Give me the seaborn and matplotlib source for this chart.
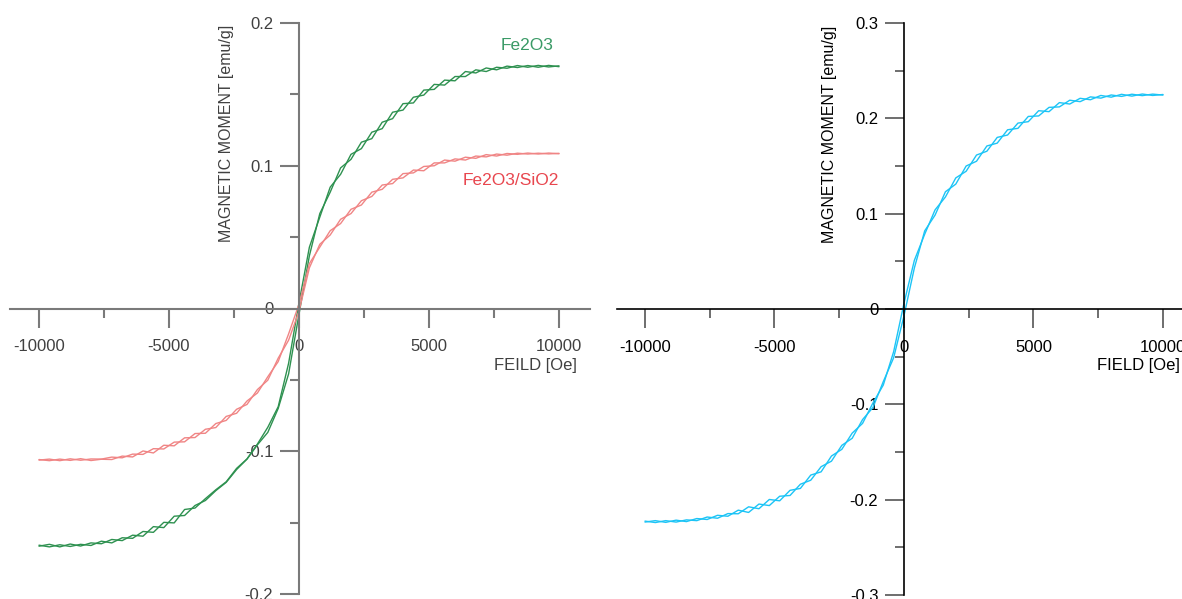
import numpy as np
import pandas as pd
import matplotlib
matplotlib.use('Agg')
import matplotlib.pyplot as plt
import seaborn as sns

# field sweep (Oe), shared by all loops
field = [-10000, -9600, -9200, -8800, -8400, -8000, -7600, -7200, -6800, -6400,
         -6000, -5600, -5200, -4800, -4400, -4000, -3600, -3200, -2800, -2400,
         -2000, -1600, -1200, -800, -400, 0, 400, 800, 1200, 1600,
         2000, 2400, 2800, 3200, 3600, 4000, 4400, 4800, 5200, 5600,
         6000, 6400, 6800, 7200, 7600, 8000, 8400, 8800, 9200, 9600, 10000]

# Fe2O3, two sweep branches (emu/g)
fe2o3_a = [-0.1665, -0.1652, -0.1670, -0.1650, -0.1664, -0.1642, -0.1648, -0.1618, -0.1626, -0.1588,
           -0.1595, -0.1528, -0.1535, -0.1455, -0.1450, -0.1380, -0.1345, -0.1276, -0.1218, -0.1128,
           -0.1055, -0.0955, -0.0868, -0.0700, -0.0458, -0.0040, 0.0370, 0.0665, 0.0815, 0.0985,
           0.1045, 0.1165, 0.1190, 0.1305, 0.1330, 0.1435, 0.1440, 0.1530, 0.1535, 0.1600,
           0.1595, 0.1660, 0.1650, 0.1685, 0.1672, 0.1698, 0.1688, 0.1702, 0.1690, 0.1703, 0.1694]
fe2o3_b = [-0.1658, -0.1670, -0.1655, -0.1667, -0.1652, -0.1660, -0.1630, -0.1642, -0.1606, -0.1610,
           -0.1562, -0.1568, -0.1498, -0.1502, -0.1408, -0.1398, -0.1332, -0.1270, -0.1214, -0.1120,
           -0.1054, -0.0950, -0.0832, -0.0688, -0.0384, 0.0040, 0.0430, 0.0640, 0.0850, 0.0940,
           0.1080, 0.1120, 0.1235, 0.1260, 0.1375, 0.1390, 0.1480, 0.1495, 0.1570, 0.1565,
           0.1625, 0.1625, 0.1672, 0.1660, 0.1690, 0.1683, 0.1702, 0.1690, 0.1703, 0.1692, 0.1700]

# Fe2O3/SiO2, two sweep branches
fe2o3_sio2_a = [-0.1062, -0.1055, -0.1066, -0.1053, -0.1063, -0.1054, -0.1055, -0.1041, -0.1046, -0.1020,
                -0.1022, -0.0982, -0.0984, -0.0936, -0.0934, -0.0876, -0.0874, -0.0806, -0.0784, -0.0706,
                -0.0672, -0.0568, -0.0502, -0.0348, -0.0222, -0.0020, 0.0285, 0.0450, 0.0515, 0.0625,
                0.0665, 0.0755, 0.0785, 0.0865, 0.0875, 0.0945, 0.0950, 0.0995, 0.1000, 0.1040,
                0.1032, 0.1060, 0.1052, 0.1078, 0.1068, 0.1086, 0.1080, 0.1089, 0.1082, 0.1089, 0.1084]
fe2o3_sio2_b = [-0.1058, -0.1066, -0.1055, -0.1064, -0.1052, -0.1065, -0.1056, -0.1058, -0.1034, -0.1040,
                -0.0998, -0.1012, -0.0958, -0.0962, -0.0906, -0.0904, -0.0846, -0.0834, -0.0756, -0.0734,
                -0.0648, -0.0592, -0.0478, -0.0372, -0.0178, 0.0030, 0.0315, 0.0430, 0.0545, 0.0595,
                0.0695, 0.0725, 0.0815, 0.0835, 0.0905, 0.0915, 0.0970, 0.0965, 0.1020, 0.1020,
                0.1048, 0.1040, 0.1068, 0.1062, 0.1082, 0.1074, 0.1088, 0.1082, 0.1088, 0.1083, 0.1087]

# right panel loop, two sweep branches
loop_a = [-0.2225, -0.2240, -0.2220, -0.2235, -0.2212, -0.2220, -0.2182, -0.2195, -0.2146, -0.2148,
          -0.2075, -0.2095, -0.1998, -0.2012, -0.1902, -0.1882, -0.1742, -0.1708, -0.1542, -0.1472,
          -0.1302, -0.1200, -0.0986, -0.0798, -0.0448, 0.0060, 0.0510, 0.0785, 0.1040, 0.1175,
          0.1375, 0.1445, 0.1615, 0.1655, 0.1800, 0.1825, 0.1950, 0.1965, 0.2080, 0.2070,
          0.2165, 0.2150, 0.2210, 0.2195, 0.2240, 0.2222, 0.2252, 0.2233, 0.2255, 0.2240, 0.2250]
loop_b = [-0.2235, -0.2220, -0.2238, -0.2215, -0.2230, -0.2198, -0.2208, -0.2164, -0.2174, -0.2110,
          -0.2134, -0.2046, -0.2062, -0.1964, -0.1956, -0.1838, -0.1796, -0.1654, -0.1596, -0.1430,
          -0.1356, -0.1160, -0.1034, -0.0762, -0.0512, -0.0070, 0.0430, 0.0820, 0.0985, 0.1230,
          0.1310, 0.1500, 0.1550, 0.1710, 0.1740, 0.1880, 0.1895, 0.2020, 0.2025, 0.2115,
          0.2120, 0.2190, 0.2175, 0.2225, 0.2212, 0.2245, 0.2230, 0.2253, 0.2238, 0.2254, 0.2244]

x_ticks = [-10000, -5000, 0, 5000, 10000]
x_labels = ['-10000', '-5000', '0', '5000', '10000']
x_minor = [-7500, -2500, 2500, 7500]
left_yticks = [-0.2, -0.1, 0, 0.1, 0.2]
left_ylabels = ['-0.2', '-0.1', '0', '0.1', '0.2']
left_yminor = [-0.15, -0.05, 0.05, 0.15]
right_yticks = [-0.3, -0.2, -0.1, 0, 0.1, 0.2, 0.3]
right_ylabels = ['-0.3', '-0.2', '-0.1', '0', '0.1', '0.2', '0.3']
right_yminor = [-0.25, -0.15, -0.05, 0.05, 0.15, 0.25]

sns.set_style('white')
plt.rcParams['font.family'] = ['Liberation Sans', 'DejaVu Sans']
plt.rcParams['axes.unicode_minus'] = False

W, H = 1182, 599
fig = plt.figure(figsize=(W / 100, H / 100), dpi=100)


def px_axes(x0, x1, y_top, y_bot):
    # pixel box -> figure fraction rect
    return [x0 / W, (H - y_bot) / H, (x1 - x0) / W, (y_bot - y_top) / H]


def style_axes(ax, spine_col, tick_col, text_col, lw):
    for s in ['top', 'right']:
        ax.spines[s].set_visible(False)
    for s in ['left', 'bottom']:
        ax.spines[s].set_position(('data', 0))
        ax.spines[s].set_color(spine_col)
        ax.spines[s].set_linewidth(lw)
    ax.tick_params(which='both', direction='out', color=tick_col, width=lw,
                   labelcolor=text_col, labelsize=12, bottom=True, left=True)
    ax.tick_params(which='major', length=13.5)
    ax.tick_params(which='minor', length=6.5)
    ax.tick_params(axis='x', which='major', pad=8.5)
    ax.tick_params(axis='y', which='major', pad=5)
    ax.set_facecolor('none')


# ---- left panel: Fe2O3 vs Fe2O3/SiO2
left = pd.concat([
    pd.DataFrame({'field': field, 'moment': fe2o3_a, 'sample': 'Fe2O3', 'branch': 'a'}),
    pd.DataFrame({'field': field, 'moment': fe2o3_b, 'sample': 'Fe2O3', 'branch': 'b'}),
    pd.DataFrame({'field': field, 'moment': fe2o3_sio2_a, 'sample': 'Fe2O3/SiO2', 'branch': 'a'}),
    pd.DataFrame({'field': field, 'moment': fe2o3_sio2_b, 'sample': 'Fe2O3/SiO2', 'branch': 'b'}),
])

ax1 = fig.add_axes(px_axes(10, 590, 23, 594))
sns.lineplot(data=left, x='field', y='moment', hue='sample', units='branch',
             estimator=None, sort=False, ax=ax1, legend=False, linewidth=1.0,
             palette={'Fe2O3': '#2e9150', 'Fe2O3/SiO2': '#f08585'})
ax1.set_xlim(-11115, 11192)
ax1.set_ylim(-0.2, 0.2)
ax1.set_xticks(x_ticks, x_labels)
ax1.set_xticks(x_minor, minor=True)
ax1.set_yticks(left_yticks, left_ylabels)
ax1.set_yticks(left_yminor, minor=True)
style_axes(ax1, '#7a7a7a', '#7a7a7a', '#404040', 1.5)
ax1.set_xlabel('FEILD [Oe]', fontsize=12, color='#404040', ha='right')
ax1.xaxis.set_label_coords(0.978, 0.414)
ax1.set_ylabel('MAGNETIC MOMENT [emu/g]', fontsize=11.5, color='#404040')
ax1.yaxis.set_label_coords(0.386, 0.806)
ax1.text(9800, 0.184, 'Fe2O3', color='#3a9a66', fontsize=12.5, ha='right', va='center')
ax1.text(10000, 0.09, 'Fe2O3/SiO2', color='#e8464e', fontsize=12.5, ha='right', va='center')

# ---- right panel: single sample
right = pd.concat([
    pd.DataFrame({'field': field, 'moment': loop_a, 'branch': 'a'}),
    pd.DataFrame({'field': field, 'moment': loop_b, 'branch': 'b'}),
])

ax2 = fig.add_axes(px_axes(617, 1200, 23, 595))
sns.lineplot(data=right, x='field', y='moment', units='branch', estimator=None,
             sort=False, ax=ax2, legend=False, linewidth=1.0, color='#1cc4f6')
ax2.set_xlim(-11081, 11429)
ax2.set_ylim(-0.3, 0.3)
ax2.set_xticks(x_ticks, x_labels)
ax2.set_xticks(x_minor, minor=True)
ax2.set_yticks(right_yticks, right_ylabels)
ax2.set_yticks(right_yminor, minor=True)
style_axes(ax2, 'black', '#555555', 'black', 1.2)
ax2.set_xlabel('FIELD [Oe]', fontsize=12, color='black', ha='right')
ax2.xaxis.set_label_coords(0.966, 0.414)
ax2.set_ylabel('MAGNETIC MOMENT [emu/g]', fontsize=11.5, color='black')
ax2.yaxis.set_label_coords(0.377, 0.806)

fig.savefig('out.png', dpi=100)
